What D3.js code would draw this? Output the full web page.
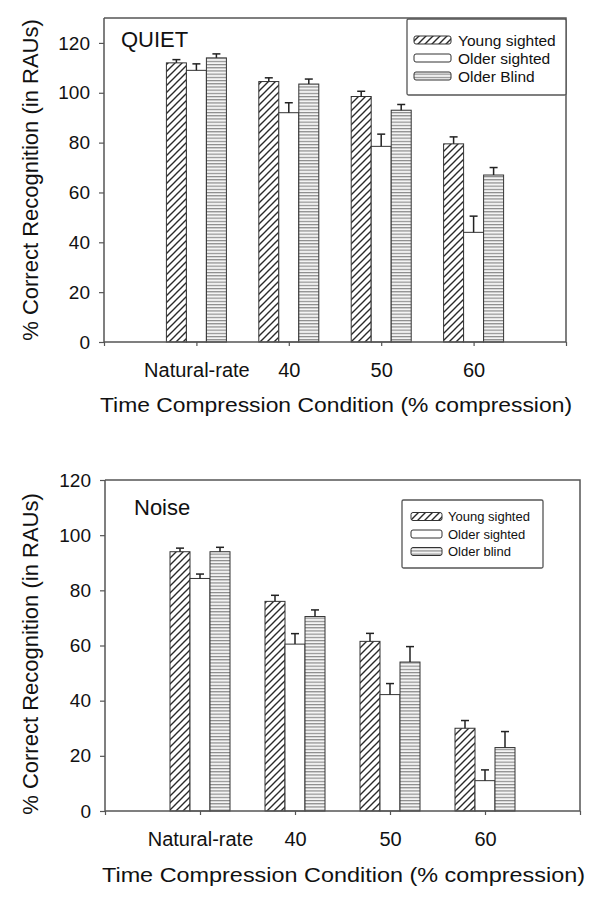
<!DOCTYPE html>
<html><head><meta charset="utf-8">
<script src="https://cdn.jsdelivr.net/npm/d3@7"></script>
<style>
html,body{margin:0;padding:0;background:#fff;}
text{font-family:"Liberation Sans",Arial,sans-serif;fill:#111;}
</style></head>
<body>
<script>
// ---- data ----
const categories = ["Natural-rate", "40", "50", "60"];
const yTicks = [0, 20, 40, 60, 80, 100, 120];

const quietSeriesNames = ["Young sighted", "Older sighted", "Older Blind"];
const quietYoung = [112, 104.5, 98.5, 79.5];
const quietYoungErr = [1.3, 1.5, 2.1, 2.8];
const quietOlderSighted = [109, 92, 78.5, 44];
const quietOlderSightedErr = [2.6, 4, 4.9, 6.5];
const quietOlderBlind = [114, 103.5, 93, 67];
const quietOlderBlindErr = [1.6, 2, 2.3, 3];

const noiseSeriesNames = ["Young sighted", "Older sighted", "Older blind"];
const noiseYoung = [94, 76, 61.5, 30];
const noiseYoungErr = [1.3, 2.2, 2.9, 2.8];
const noiseOlderSighted = [84.3, 60.5, 42.2, 11];
const noiseOlderSightedErr = [1.6, 3.8, 4, 3.9];
const noiseOlderBlind = [94, 70.5, 54, 23];
const noiseOlderBlindErr = [1.6, 2.4, 5.6, 5.8];

const xTitle = "Time Compression Condition (% compression)";
const yTitle = "% Correct Recognition (in RAUs)";

const svg = d3.select("body").append("svg").attr("width", 615).attr("height", 900);
const defs = svg.append("defs");
const diag = defs.append("pattern").attr("id", "diag").attr("patternUnits", "userSpaceOnUse")
  .attr("width", 7).attr("height", 7);
diag.append("rect").attr("width", 7).attr("height", 7).attr("fill", "#fff");
diag.append("path").attr("d", "M-1,8 L8,-1 M-4,4 L4,-4 M3,11 L11,3")
  .attr("stroke", "#2a2a2a").attr("stroke-width", 1.4);
const horiz = defs.append("pattern").attr("id", "horiz").attr("patternUnits", "userSpaceOnUse")
  .attr("width", 8).attr("height", 3.2);
horiz.append("rect").attr("width", 8).attr("height", 3.2).attr("fill", "#f4f4f4");
horiz.append("line").attr("x1", 0).attr("x2", 8).attr("y1", 0.6).attr("y2", 0.6)
  .attr("stroke", "#777").attr("stroke-width", 1);
const fills = ["url(#diag)", "#fff", "url(#horiz)"];

function drawChart(cfg) {
  const g = svg.append("g");
  const x = d3.scaleLinear().domain([0, categories.length + 1]).range([cfg.left, cfg.right]);
  const y = d3.scaleLinear().domain([0, cfg.yMax]).range([cfg.bottom, cfg.top]);
  const bw = 20;
  const series = cfg.series.map((vals, j) => ({ vals, errs: cfg.errs[j], j }));

  // bars
  series.forEach(s => {
    s.vals.forEach((v, i) => {
      const cx = x(i + 1) + (s.j - 1) * bw;
      g.append("rect").attr("x", cx - bw / 2).attr("y", y(v))
        .attr("width", bw).attr("height", y(0) - y(v))
        .attr("fill", fills[s.j]).attr("stroke", "#333").attr("stroke-width", 1);
      const yt = y(v + s.errs[i]);
      g.append("line").attr("x1", cx).attr("x2", cx).attr("y1", y(v)).attr("y2", yt)
        .attr("stroke", "#222").attr("stroke-width", 1.5);
      g.append("line").attr("x1", cx - 4).attr("x2", cx + 4).attr("y1", yt).attr("y2", yt)
        .attr("stroke", "#222").attr("stroke-width", 1.5);
    });
  });

  // frame
  g.append("path")
    .attr("d", `M${cfg.left},${cfg.top} H${cfg.right} V${cfg.bottom}`)
    .attr("fill", "none").attr("stroke", "#555").attr("stroke-width", 1.5);

  // y axis
  const ya = d3.axisLeft(y).tickValues(yTicks).tickSize(5).tickPadding(9).tickFormat(d3.format("d"));
  const yg = g.append("g").attr("transform", `translate(${cfg.left},0)`).call(ya);
  yg.select(".domain").attr("stroke", "#555").attr("stroke-width", 1.5)
    .attr("d", `M-0,${cfg.bottom}V${cfg.top}`);
  yg.selectAll(".tick line").attr("stroke", "#555").attr("stroke-width", 1.2);
  yg.selectAll(".tick text").attr("font-size", 19).attr("fill", "#111")
    .attr("font-family", "Liberation Sans, Arial, sans-serif");

  // x axis
  const xa = d3.axisBottom(x).tickValues(d3.range(0, categories.length + 2)).tickSize(4)
    .tickFormat(d => (d >= 1 && d <= categories.length) ? categories[d - 1] : "").tickPadding(cfg.xPad);
  const xg = g.append("g").attr("transform", `translate(0,${cfg.bottom})`).call(xa);
  xg.select(".domain").attr("stroke", "#555").attr("stroke-width", 1.5)
    .attr("d", `M${cfg.left},0H${cfg.right}`);
  xg.selectAll(".tick line").attr("stroke", "#555").attr("stroke-width", 1.2);
  xg.selectAll(".tick text").attr("font-size", 20).attr("fill", "#111")
    .attr("font-family", "Liberation Sans, Arial, sans-serif");

  // titles
  g.append("text").attr("x", (cfg.left + cfg.right) / 2 + 1).attr("y", cfg.xTitleY)
    .attr("text-anchor", "middle").attr("font-size", 21)
    .attr("textLength", cfg.xTitleLen).attr("lengthAdjust", "spacingAndGlyphs").text(xTitle);
  g.append("text").attr("transform", `translate(${cfg.yTitleX},${cfg.yTitleC}) rotate(-90)`)
    .attr("text-anchor", "middle").attr("font-size", 22).text(yTitle);
  g.append("text").attr("x", cfg.labelX).attr("y", cfg.labelY).attr("font-size", 22).text(cfg.label);

  // legend
  const L = cfg.legend;
  g.append("rect").attr("x", L.x).attr("y", L.y).attr("width", L.w).attr("height", L.h)
    .attr("rx", 1.5).attr("fill", "#fff").attr("stroke", "#555").attr("stroke-width", 1.3);
  cfg.names.forEach((n, j) => {
    const cy = L.y + L.row0 + j * L.step;
    g.append("rect").attr("x", L.sx).attr("y", cy - L.sh / 2).attr("width", L.sw).attr("height", L.sh)
      .attr("rx", 2).attr("fill", fills[j]).attr("stroke", "#333").attr("stroke-width", 1);
    g.append("text").attr("x", L.tx).attr("y", cy + L.fs * 0.36).attr("font-size", L.fs).text(n);
  });
}

drawChart({
  left: 104, right: 566, top: 18, bottom: 342, yMax: 130, xPad: 17,
  series: [quietYoung, quietOlderSighted, quietOlderBlind],
  errs: [quietYoungErr, quietOlderSightedErr, quietOlderBlindErr],
  names: quietSeriesNames, label: "QUIET", labelX: 121, labelY: 47,
  xTitleY: 412, xTitleLen: 472, yTitleX: 38, yTitleC: 180,
  legend: { x: 407, y: 19, w: 159, h: 76, row0: 21, step: 18, sx: 414, sw: 37, sh: 8, tx: 458, fs: 15.5 }
});

drawChart({
  left: 105, right: 580, top: 480, bottom: 811, yMax: 120, xPad: 17,
  series: [noiseYoung, noiseOlderSighted, noiseOlderBlind],
  errs: [noiseYoungErr, noiseOlderSightedErr, noiseOlderBlindErr],
  names: noiseSeriesNames, label: "Noise", labelX: 134, labelY: 515,
  xTitleY: 882, xTitleLen: 483, yTitleX: 38, yTitleC: 654,
  legend: { x: 402, y: 500, w: 141, h: 68, row0: 16.5, step: 17.5, sx: 411, sw: 31, sh: 8, tx: 448, fs: 13 }
});
</script>
</body></html>
